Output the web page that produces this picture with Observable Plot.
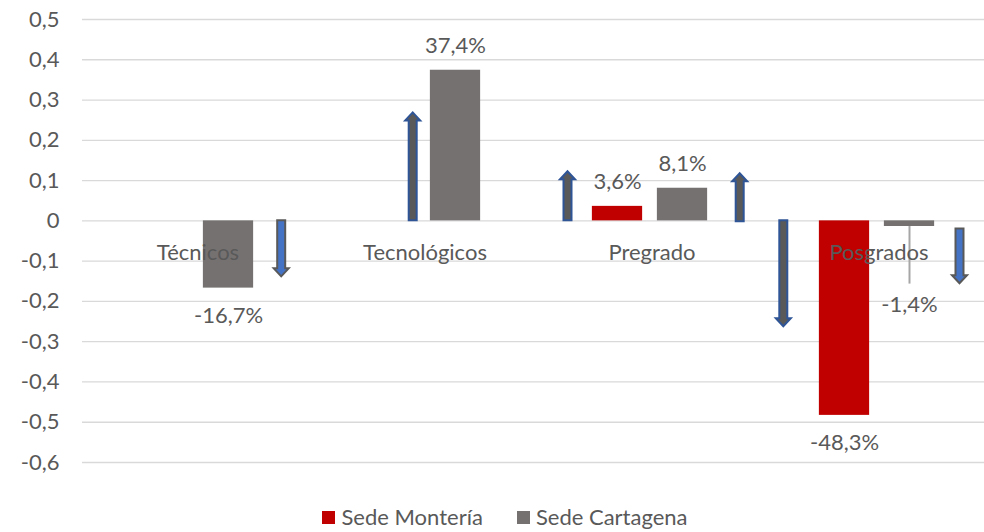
<!DOCTYPE html>
<html>
<head>
<meta charset="utf-8">
<script src="https://cdn.jsdelivr.net/npm/d3@7"></script>
<script src="https://cdn.jsdelivr.net/npm/@observablehq/plot@0.6"></script>
<style>
  html, body { margin: 0; padding: 0; background: #fff; overflow: hidden; }
  body { font-family: Lato, "Open Sans", sans-serif; width: 984px; height: 532px; }
  #legend { display: flex; justify-content: center; align-items: center; margin-left: 26px; height: 24px; margin-top: 5px;
            font-size: 22px; line-height: 24px; color: #595959; }
  #legend .item { display: flex; align-items: center; }
  #legend .sw { width: 13px; height: 13px; margin-right: 6px; }
  #legend .item + .item { margin-left: 34px; }
</style>
</head>
<body>
<div id="chart"></div>
<div id="legend"></div>
<script>
// ---- data ----
const categories = ["Técnicos", "Tecnológicos", "Pregrado", "Posgrados"];
const seriesNames = ["Sede Montería", "Sede Cartagena"];
const monteria = [null, null, 0.036, -0.483];
const cartagena = [-0.167, 0.374, 0.081, -0.014];
const cartagenaErrLow = [null, null, null, -0.157];
const yTicks = [0.5, 0.4, 0.3, 0.2, 0.1, 0, -0.1, -0.2, -0.3, -0.4, -0.5, -0.6];
// arrows: category, start value, end (tip) value, style kind
const arrowCat = ["Técnicos", "Tecnológicos", "Pregrado", "Pregrado", "Posgrados", "Posgrados"];
const arrowFrom = [0, 0, 0, -0.002, 0, -0.02];
const arrowTo = [-0.139, 0.268, 0.122, 0.117, -0.263, -0.156];
const arrowKind = ["A", "B", "B", "B", "B", "A"];

// ---- styles ----
const colors = {"Sede Montería": "#C00000", "Sede Cartagena": "#767171"};
const seriesShift = {"Sede Montería": -32.5, "Sede Cartagena": 32.5};
const arrowShift = [83.7, -11.8, -84, 88.2, -95.2, 81];
const arrowStyle = {A: {fill: "#4472C4", stroke: "#595959"}, B: {fill: "#595959", stroke: "#2F5597"}};
const textColor = "#595959";
const fontSize = 22;

// ---- tables ----
const bars = [];
categories.forEach((c, i) => {
  if (monteria[i] != null) bars.push({cat: c, series: "Sede Montería", value: monteria[i], err: null});
  if (cartagena[i] != null) bars.push({cat: c, series: "Sede Cartagena", value: cartagena[i], err: cartagenaErrLow[i]});
});
const arrows = arrowCat.map((c, i) => ({cat: c, from: arrowFrom[i], to: arrowTo[i], kind: arrowKind[i], shift: arrowShift[i]}));
const fmtPct = v => (v * 100).toFixed(1).replace(".", ",") + "%";
const fmtTick = v => v === 0 ? "0" : v.toFixed(1).replace(".", ",");

const W = 984, H = 500;
const marginLeft = 82, marginRight = -9, marginTop = 19, marginBottom = H - 462;
const bandW = (W - marginLeft - marginRight) / categories.length;
const barW = 51;
const inset = (bandW - barW) / 2;

const barMarks = seriesNames.map(s => Plot.barY(bars.filter(d => d.series === s), {
  x: "cat", y: "value", fill: colors[s], insetLeft: inset, insetRight: inset, dx: seriesShift[s] - 2
}));
const errMarks = seriesNames.map(s => Plot.ruleX(bars.filter(d => d.series === s && d.err != null), {
  x: "cat", y1: "value", y2: "err", stroke: "#A6A6A6", strokeWidth: 2, dx: seriesShift[s] - 2
}));
const labelMarks = seriesNames.flatMap(s => {
  const rows = bars.filter(d => d.series === s);
  return [
    Plot.text(rows.filter(d => d.value >= 0), {x: "cat", y: "value", text: d => fmtPct(d.value), dx: seriesShift[s] - 2, dy: -24.5, fill: textColor, fontSize}),
    Plot.text(rows.filter(d => d.value < 0 && d.err == null), {x: "cat", y: "value", text: d => fmtPct(d.value), dx: seriesShift[s] - 2, dy: 28, fill: textColor, fontSize}),
    Plot.text(rows.filter(d => d.value < 0 && d.err != null), {x: "cat", y: "err", text: d => fmtPct(d.value), dx: seriesShift[s] - 2, dy: 21, fill: textColor, fontSize})
  ];
});

// custom block arrows drawn through the scales
function arrowMark(index, scales) {
  const x = scales.x, y = scales.y;
  const bw = x.bandwidth ? x.bandwidth() : 0;
  const g = d3.create("svg:g");
  const w = 4, hw = 7.5, hl = 8;
  for (const a of arrows) {
    const cx = x(a.cat) + bw / 2 + a.shift;
    const yb = y(a.from), yt = y(a.to);
    const dir = yt < yb ? 1 : -1; // 1 = up
    const yh = yt + dir * hl;
    const pts = [[cx - w, yb], [cx - w, yh], [cx - hw, yh], [cx, yt], [cx + hw, yh], [cx + w, yh], [cx + w, yb]];
    const st = arrowStyle[a.kind];
    g.append("path")
      .attr("d", "M" + pts.map(p => p.join(",")).join("L") + "Z")
      .attr("fill", st.fill).attr("stroke", st.stroke).attr("stroke-width", 2).attr("stroke-linejoin", "miter");
  }
  return g.node();
}

const chart = Plot.plot({
  width: W, height: H,
  marginLeft, marginRight, marginTop, marginBottom,
  style: {fontFamily: "Lato, 'Open Sans', sans-serif", fontSize: fontSize + "px", color: textColor, background: "#fff", overflow: "hidden"},
  x: {domain: categories, padding: 0, axis: null},
  y: {domain: [-0.6, 0.5], axis: null},
  marks: [
    Plot.ruleY(yTicks, {stroke: "#D9D9D9", strokeWidth: 1.3}),
    Plot.axisY(yTicks, {tickSize: 0, tickPadding: 23, tickFormat: fmtTick, fill: textColor, fontSize, label: null}),
    ...barMarks,
    ...errMarks,
    arrowMark,
    ...labelMarks,
    Plot.text(categories, {x: d => d, y: () => -0.08, text: d => d, fill: textColor, fontSize})
  ]
});
document.getElementById("chart").appendChild(chart);

const legend = document.getElementById("legend");
seriesNames.forEach(s => {
  const it = document.createElement("div");
  it.className = "item";
  it.innerHTML = `<span class="sw" style="background:${colors[s]}"></span><span>${s}</span>`;
  legend.appendChild(it);
});
</script>
</body>
</html>
